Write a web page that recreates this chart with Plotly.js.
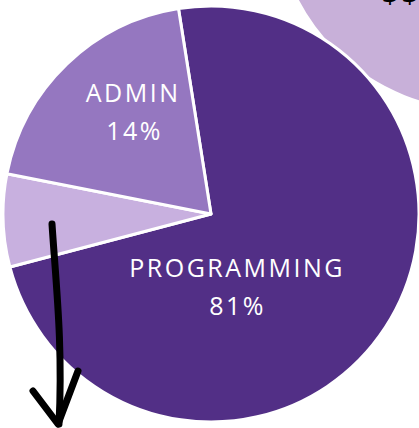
<!DOCTYPE html>
<html>
<head>
<meta charset="utf-8">
<script src="https://cdn.plot.ly/plotly-3.0.1.min.js"></script>
<style>
html,body{margin:0;padding:0;background:#fff;overflow:hidden}
#chart{width:419px;height:428px}
.js-plotly-plot .annotation-text{letter-spacing:2.5px}
.js-plotly-plot .shapelayer path{stroke-linecap:round;stroke-linejoin:round}
</style>
</head>
<body>
<div id="chart"></div>
<script>
// ---- data ----
const categories   = ["Programming", "Other", "Admin"];
const shares       = [73.4, 7.2, 19.4];          // slice sizes as drawn
const labelTexts   = ["PROGRAMMING", "", "ADMIN"];
const percentTexts = ["81%", "", "14%"];
const cornerSymbol = "$$";

// ---- styles / layout ----
const W = 419, H = 428;
const sliceColors = ["#522f86", "#c8b0df", "#9577c0"];
const labelPos = { Programming: [237, 267], Admin: [133, 92] };
const pctPos   = { Programming: [237, 305], Admin: [134, 130] };

function px(x){ return x / W; }
function py(y){ return 1 - y / H; }
function pt(x, y){ return px(x) + ',' + py(y); }

const pie = {
  type: 'pie',
  labels: categories,
  values: shares,
  sort: false,
  direction: 'clockwise',
  rotation: -9,
  textinfo: 'none',
  hoverinfo: 'label+percent',
  marker: { colors: sliceColors, line: { color: '#ffffff', width: 3 } },
  domain: { x: [px(3), 1], y: [py(422), py(6)] },
  showlegend: false
};

const annotations = [];
categories.forEach((c, i) => {
  if (labelTexts[i]) {
    annotations.push({ xref:'paper', yref:'paper', x: px(labelPos[c][0]), y: py(labelPos[c][1]),
      xanchor:'center', yanchor:'middle', showarrow:false, text: labelTexts[i],
      font:{ family:'Open Sans, Noto Sans, sans-serif', size:25, color:'#ffffff' } });
  }
  if (percentTexts[i]) {
    annotations.push({ xref:'paper', yref:'paper', x: px(pctPos[c][0]), y: py(pctPos[c][1]),
      xanchor:'center', yanchor:'middle', showarrow:false, text: percentTexts[i],
      font:{ family:'Open Sans, Noto Sans, sans-serif', size:25, color:'#ffffff' } });
  }
});
annotations.push({ xref:'paper', yref:'paper', x: px(401), y: py(14),
  xanchor:'center', yanchor:'bottom', showarrow:false, text: cornerSymbol,
  font:{ family:'Open Sans, sans-serif', size:30, color:'#000000' } });

const shapes = [
  { type:'circle', xref:'paper', yref:'paper', layer:'below',
    x0: px(274), x1: px(686), y0: py(111), y1: py(-301),
    fillcolor:'#c8b0d9', line:{ color:'#ffffff', width:3 } },
  { type:'path', xref:'paper', yref:'paper', layer:'above',
    path: 'M' + pt(52,224) + ' C' + pt(56,285) + ' ' + pt(63,345) + ' ' + pt(59,424),
    line:{ color:'#000000', width:7 } },
  { type:'path', xref:'paper', yref:'paper', layer:'above',
    path: 'M' + pt(33,391) + ' L' + pt(58,424) + ' L' + pt(78,371),
    line:{ color:'#000000', width:7 } }
];

const layout = {
  width: W, height: H,
  margin: { l:0, r:0, t:0, b:0 },
  paper_bgcolor: '#ffffff',
  plot_bgcolor: '#ffffff',
  annotations: annotations,
  shapes: shapes
};

Plotly.newPlot('chart', [pie], layout, { displayModeBar: false, staticPlot: true });
</script>
</body>
</html>
